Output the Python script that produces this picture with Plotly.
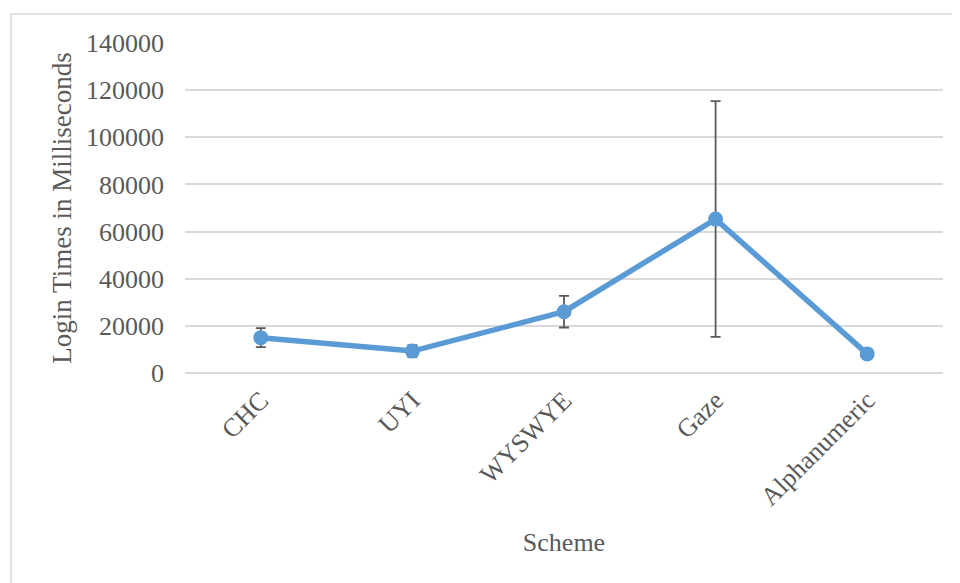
import plotly.graph_objects as go

schemes = ["CHC", "UYI", "WYSWYE", "Gaze", "Alphanumeric"]
login_ms = [15000, 9300, 26000, 65300, 8100]
error_ms = [4000, 2500, 6700, 50000, 1000]
y_ticks = [0, 20000, 40000, 60000, 80000, 100000, 120000, 140000]

font = "Liberation Serif, Times New Roman, serif"
grey = "#595959"

fig = go.Figure()
fig.add_trace(
    go.Scatter(
        x=schemes,
        y=login_ms,
        mode="lines+markers",
        line=dict(color="#5B9BD5", width=5.5),
        marker=dict(color="#5B9BD5", size=15),
        error_y=dict(type="data", array=error_ms, visible=True,
                     color="#595959", thickness=1.8, width=5),
        showlegend=False,
    )
)

# chart frame, Excel style
fig.add_shape(type="rect", xref="paper", yref="paper",
              x0=-0.2296, x1=1.05, y0=-0.8, y1=1.088,
              line=dict(color="#D9D9D9", width=1.5), layer="below")

# page body has an 8px margin, so margins are shifted by that amount
fig.update_layout(
    width=960,
    height=583,
    margin=dict(l=177, r=25, t=35, b=218, autoexpand=False),
    paper_bgcolor="white",
    plot_bgcolor="white",
    font=dict(family=font, size=26, color=grey),
    xaxis=dict(
        title=dict(text="Scheme", font=dict(size=26, color=grey), standoff=22),
        range=[-0.5, 4.5],
        tickangle=-45,
        showgrid=False,
        showline=False,
        ticks="",
        ticklabelstandoff=6,
        tickfont=dict(size=26, color=grey),
    ),
    yaxis=dict(
        title=dict(text="Login Times in Milliseconds", font=dict(size=27, color=grey), standoff=6),
        range=[0, 140000],
        tickvals=y_ticks,
        ticktext=[str(v) for v in y_ticks],
        showgrid=True,
        gridcolor="#D9D9D9",
        gridwidth=1.5,
        zeroline=True,
        zerolinecolor="#D9D9D9",
        zerolinewidth=1.5,
        ticks="",
        ticklabelstandoff=20,
        tickfont=dict(size=26, color=grey),
    ),
)

fig.write_html("out.html")
